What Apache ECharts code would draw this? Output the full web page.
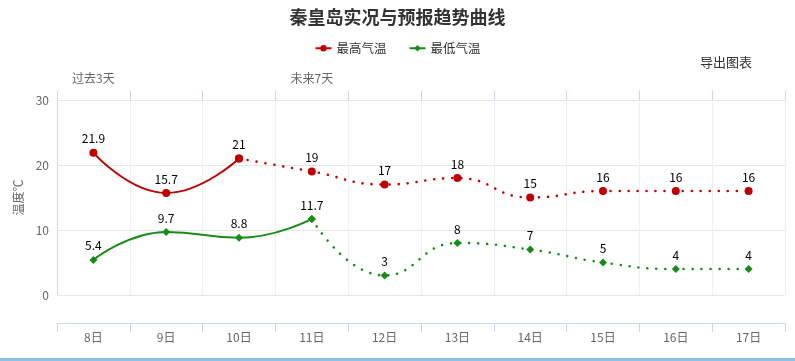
<!DOCTYPE html>
<html><head><meta charset="utf-8">
<script src="https://cdn.jsdelivr.net/npm/echarts@6/dist/echarts.min.js"></script>
<style>html,body{margin:0;padding:0;background:#fff}#c{width:795px;height:361px}</style>
</head><body><div id="c"></div>
<script>
const categories = ['8日','9日','10日','11日','12日','13日','14日','15日','16日','17日'];
const topLabels = ['过去3天','','','未来7天','','','','','',''];
const maxTemp = [21.9, 15.7, 21, 19, 17, 18, 15, 16, 16, 16];
const minTemp = [5.4, 9.7, 8.8, 11.7, 3, 8, 7, 5, 4, 4];
const maxSolidEnd = 2;  // last observed index for max
const minSolidEnd = 3;  // last observed index for min
const yTicks = [0, 10, 20, 30];

function part(arr, from, to) { return arr.map((v, i) => (i >= from && i <= to) ? v : null); }

const FONT = '"Noto Sans CJK SC","Noto Sans",sans-serif';
const RED = '#c00000', GREEN = '#168c16';
const labelCfg = { show: true, position: 'top', distance: 4, color: '#000', fontSize: 12, fontFamily: FONT };

const chart = echarts.init(document.getElementById('c'));
chart.setOption({
  animation: false,
  textStyle: { fontFamily: FONT },
  title: { text: '秦皇岛实况与预报趋势曲线', left: 'center', top: 3,
    textStyle: { fontSize: 18, fontWeight: 'bold', color: '#333', fontFamily: FONT } },
  legend: { top: 37, left: 'center', itemWidth: 16, itemHeight: 8, itemGap: 22,
    data: ['最高气温', '最低气温'],
    textStyle: { fontSize: 12.5, color: '#333', fontFamily: FONT } },
  graphic: [
    { type: 'text', left: 700, top: 56, style: { text: '导出图表', fontSize: 13, fill: '#333', fontFamily: FONT } },
    { type: 'rect', shape: { x: 0, y: 358, width: 795, height: 3 }, style: { fill: '#8cc2ea' } }
  ],
  grid: { left: 57, right: 10, top: 100, bottom: 66 },
  xAxis: [
    { type: 'category', data: categories, position: 'bottom', offset: 28, boundaryGap: true,
      axisLine: { show: true, onZero: false, lineStyle: { color: '#ccd6eb' } },
      axisTick: { show: true, length: 9, lineStyle: { color: '#ccd6eb' } },
      axisLabel: { color: '#666', fontSize: 12, margin: 8, fontFamily: FONT },
      splitLine: { show: true, lineStyle: { color: '#eef0f3' } } },
    { type: 'category', data: topLabels, position: 'top', boundaryGap: true,
      axisLine: { show: false, onZero: false },
      axisTick: { show: true, length: 9, lineStyle: { color: '#ccd6eb' } },
      axisLabel: { color: '#666', fontSize: 12, margin: 16, interval: 0, fontFamily: FONT },
      splitLine: { show: false } }
  ],
  yAxis: { type: 'value', min: yTicks[0], max: yTicks[yTicks.length - 1], interval: 10,
    name: '温度℃', nameLocation: 'middle', nameGap: 30,
    nameTextStyle: { color: '#666', fontSize: 12, fontFamily: FONT },
    axisLine: { show: true, lineStyle: { color: '#ccd6eb' } },
    axisTick: { show: false },
    axisLabel: { color: '#666', fontSize: 12, margin: 8, fontFamily: FONT },
    splitLine: { lineStyle: { color: '#e6e6e6' } } },
  series: [
    { name: '最高气温', type: 'line', data: part(maxTemp, 0, maxSolidEnd), smooth: 0.5,
      symbol: 'circle', symbolSize: 8, itemStyle: { color: RED },
      lineStyle: { color: RED, width: 2 }, label: labelCfg, z: 3 },
    { name: '最高气温', type: 'line', data: part(maxTemp, maxSolidEnd, maxTemp.length - 1), smooth: 0.5,
      symbol: 'circle', symbolSize: 8, itemStyle: { color: RED },
      lineStyle: { color: RED, width: 2.6, type: [0.01, 9], cap: 'round' },
      label: Object.assign({}, labelCfg, { formatter: p => p.dataIndex === maxSolidEnd ? '' : p.value }), z: 2 },
    { name: '最低气温', type: 'line', data: part(minTemp, 0, minSolidEnd), smooth: 0.5,
      symbol: 'diamond', symbolSize: 8, itemStyle: { color: GREEN },
      lineStyle: { color: GREEN, width: 2 }, label: labelCfg, z: 3 },
    { name: '最低气温', type: 'line', data: part(minTemp, minSolidEnd, minTemp.length - 1), smooth: 0.5,
      symbol: 'diamond', symbolSize: 8, itemStyle: { color: GREEN },
      lineStyle: { color: GREEN, width: 2.6, type: [0.01, 9], cap: 'round' },
      label: Object.assign({}, labelCfg, { formatter: p => p.dataIndex === minSolidEnd ? '' : p.value }), z: 2 }
  ]
});
</script></body></html>
